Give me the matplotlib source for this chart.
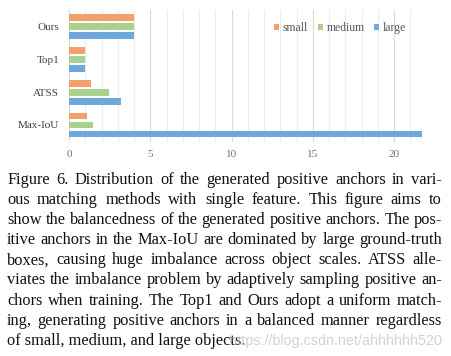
import matplotlib
matplotlib.use("Agg")
import matplotlib.pyplot as plt
from matplotlib.patches import Patch
import numpy as np

# data
methods = ["Ours", "Top1", "ATSS", "Max-IoU"]
small = [4.0, 1.0, 1.35, 1.1]
medium = [4.0, 1.0, 2.45, 1.45]
large = [4.0, 1.0, 3.2, 21.7]
series_names = ["small", "medium", "large"]
colors = ["#F4A06C", "#A9D18E", "#6FA8DC"]
xticks = [0, 5, 10, 15, 20]

caption = [
    "Figure 6. Distribution of the generated positive anchors in vari-",
    "ous matching methods with single feature.  This figure aims to",
    "show the balancedness of the generated positive anchors. The pos-",
    "itive anchors in the Max-IoU are dominated by large ground-truth",
    "boxes, causing huge imbalance across object scales.  ATSS alle-",
    "viates the imbalance problem by adaptively sampling positive an-",
    "chors when training. The Top1 and Ours adopt a uniform match-",
    "ing, generating positive anchors in a balanced manner regardless",
    "of small, medium, and large objects.",
]
watermark = "https://blog.csdn.net/ahhhhhh520"

W, H = 451, 356
serif = ["Liberation Serif", "DejaVu Serif"]

fig = plt.figure(figsize=(W / 100, H / 100), dpi=100)
fig.patch.set_facecolor("white")

# axes box in pixels: left 69, right 425, top 10, bottom 142
ax = fig.add_axes([69 / W, 1 - 142 / H, (425 - 69) / W, (142 - 10) / H])

ypos = np.arange(len(methods))[::-1]  # Ours at top
step = 0.275
h = 0.21
for vals, off, c, name in zip([small, medium, large], [step, 0, -step], colors, series_names):
    ax.barh(ypos + off, vals, height=h, color=c, label=name, zorder=3)

ax.set_xlim(0, 21.9)
ax.set_ylim(-0.52, 3.51)
ax.set_xticks(xticks)
ax.set_xticks(np.arange(1, 22), minor=True)
ax.set_yticks(ypos)
ax.set_yticklabels(methods, fontfamily=serif, fontsize=8, color="#404040")
ax.set_xticklabels([str(t) for t in xticks], fontfamily=serif, fontsize=8, color="#707070")
ax.tick_params(axis="both", which="both", length=0)
ax.tick_params(axis="x", pad=5.5)
ax.tick_params(axis="y", pad=7)
ax.grid(axis="x", which="major", color="#d9d9d9", lw=0.8, zorder=0)
ax.grid(axis="x", which="minor", color="#ececec", lw=0.8, zorder=0)
for s in ax.spines.values():
    s.set_visible(False)

handles = [Patch(facecolor=c, edgecolor="none") for c in colors]
leg = ax.legend(handles, series_names, loc="center", bbox_to_anchor=((340 - 69) / 356, (142 - 28) / 132),
                ncol=3, frameon=False, handlelength=0.45, handleheight=0.45, handletextpad=0.3,
                columnspacing=0.8, borderpad=0, prop={"family": serif, "size": 8.5})
for t in leg.get_texts():
    t.set_color("#595959")

# justified caption
renderer = fig.canvas.get_renderer()
x0, x1 = 7, 442
fs = 11.8
y_base = 184
lead = 20.1


def word_width(w):
    t = fig.text(0, 0, w, fontsize=fs, family=serif)
    wd = t.get_window_extent(renderer).width
    t.remove()
    return wd


for i, line in enumerate(caption):
    y = 1 - (y_base + i * lead) / H
    words = line.split()
    if i == len(caption) - 1:
        fig.text(x0 / W, y, line, fontsize=fs, family=serif, color="#111111", va="baseline")
        continue
    widths = [word_width(w) for w in words]
    gap = (x1 - x0 - sum(widths)) / (len(words) - 1)
    x = x0
    for w, wd in zip(words, widths):
        fig.text(x / W, y, w, fontsize=fs, family=serif, color="#111111", va="baseline")
        x += wd + gap

fig.text(442 / W, 1 - 345 / H, watermark, fontsize=10.4, family=["Liberation Sans", "DejaVu Sans"],
         color="#c8c8c8", ha="right", va="baseline", alpha=0.8)

fig.savefig("out.png", dpi=100)
